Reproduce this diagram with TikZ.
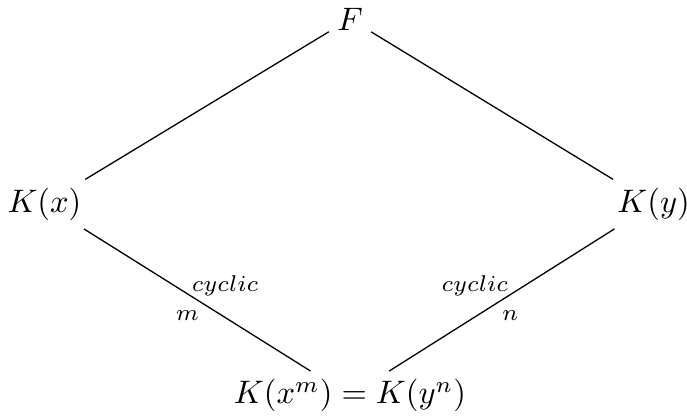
\documentclass[tikz,border=0pt]{standalone}
\usetikzlibrary{positioning}
\begin{document}
\begin{tikzpicture}[
    on grid,
    field/.style={inner sep=2.4pt},
    link/.style={-},
    lbl/.style={font=\scriptsize, inner sep=1pt, midway}
]
    \useasboundingbox (-37.8mm,2.05mm) rectangle (36.4mm,-42.8mm);

    % Top field
    \node[field] (F) {$F$};

    % Intermediate fields
    \node[field, below left=20mm and 33mm of F] (Kx) {$K(x)$};
    \node[field, below right=20mm and 32.8mm of F] (Ky) {$K(y)$};

    % Common subfield
    \node[field, below right=20.7mm and 33mm of Kx] (Kxm) {$K(x^m)=K(y^n)$};

    \draw[link] (F) -- (Kx);
    \draw[link] (F) -- (Ky);
    \draw[link] (Kx) -- (Kxm)
        node[lbl, above right, xshift=-1mm] (cycx) {$cyclic$}
        node[lbl, below left, xshift=0.6mm, yshift=-0.7mm] (degm) {$m$};
    \draw[link] (Ky) -- (Kxm)
        node[lbl, above left, xshift=1.1mm] (cycy) {$cyclic$}
        node[lbl, below right, xshift=-0.4mm, yshift=-0.7mm] (degn) {$n$};
\end{tikzpicture}
\end{document}
